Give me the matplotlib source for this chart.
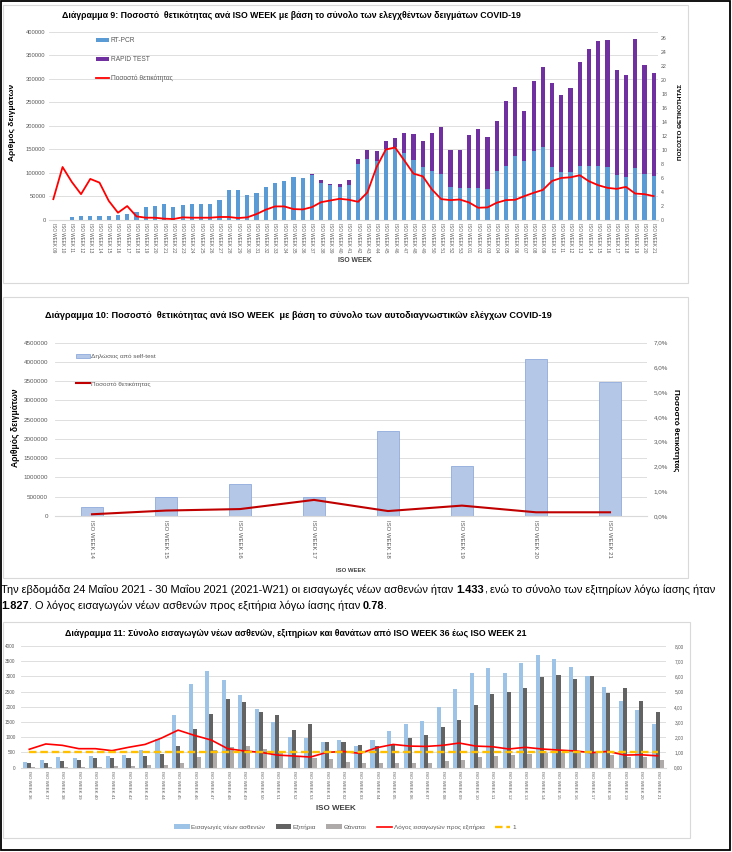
import matplotlib
matplotlib.use("Agg")
import matplotlib.pyplot as plt
import numpy as np
from matplotlib import font_manager
from matplotlib.patches import Rectangle
from matplotlib.ticker import FuncFormatter

plt.rcParams["font.family"] = ["Liberation Sans", "DejaVu Sans"]
_names = {f.name for f in font_manager.fontManager.ttflist}
NARROW = ["Liberation Sans Narrow", "Liberation Sans", "DejaVu Sans"] \
    if "Liberation Sans Narrow" in _names else ["Liberation Sans", "DejaVu Sans"]

W, H = 732, 852
GREY_TXT = "#595959"
GRID = "#D9D9D9"

# ---- Διάγραμμα 9: δείγματα ανά εβδομάδα ----
weeks9 = [f"{w:02d}" for w in range(9, 54)] + [f"{w:02d}" for w in range(1, 22)]
pcr9 = [200, 600, 5700, 9200, 8500, 9200, 9200, 10600, 13400, 17700,
        26900, 29700, 33900, 26900, 31800, 34600, 34600, 34600, 42400, 62900,
        63600, 53000, 57300, 70000, 79200, 82000, 91200, 88400, 96000, 78500,
        73500, 70000, 74200, 118800, 128700, 125800, 149900, 155500, 142800, 127300,
        111700, 103900, 98300, 70000, 68600,
        67900, 68600, 66500, 103900, 115200, 136500, 125800, 146300, 155500, 112400,
        102500, 101800, 113800, 113800, 115200, 111700, 94700, 90500, 111000, 98300,
        92600]
rapid9 = [0] * 28 + [1000, 6400, 2800, 6400, 9900, 10600, 19800, 20500, 17700, 18900,
                     43000, 56400, 56400, 81200, 98800, 78300, 79700,
                     113700, 124200, 109400, 106500, 137600, 145400, 105800, 149700, 169400, 178600,
                     163800, 178600, 221000, 248500, 265500, 269700, 224600, 218200, 272500, 231600,
                     220300]
pos9 = [2.98, 7.57, 5.44, 3.69, 5.87, 5.34, 2.74, 1.04, 1.99, 0.52,
        0.33, 0.33, 0.19, 0.14, 0.38, 0.33, 0.33, 0.33, 0.43, 0.43,
        0.28, 0.38, 0.85, 1.47, 1.94, 1.94, 1.56, 1.51, 1.84, 2.55,
        2.79, 3.03, 2.89, 2.60, 3.93, 7.57, 10.07, 10.36, 8.51, 6.62,
        6.24, 4.35, 2.98, 2.84, 2.93,
        2.51, 1.75, 1.80, 2.46, 2.84, 2.89, 3.41, 3.88, 4.30, 5.58,
        6.01, 6.10, 6.39, 5.53, 4.97, 4.59, 4.45, 4.73, 3.78, 3.69,
        3.41]

# ---- Διάγραμμα 10: self-test ----
weeks10 = ["14", "15", "16", "17", "18", "19", "20", "21"]
self10 = [225000, 500000, 830000, 500000, 2200000, 1310000, 4070000, 3470000]
pos10 = [0.07, 0.22, 0.28, 0.65, 0.20, 0.42, 0.15, 0.15]

# ---- Διάγραμμα 11: εισαγωγές / εξιτήρια / θάνατοι ----
weeks11 = [f"{w:02d}" for w in range(36, 54)] + [f"{w:02d}" for w in range(1, 22)]
adm11 = [200, 252, 350, 318, 395, 373, 416, 581, 943, 1743, 2762, 3178, 2871, 2400,
         1929, 1512, 1008, 986,
         855, 920, 712, 914, 1212, 1437, 1536, 1990, 2573, 3110, 3288, 3124, 3452,
         3704, 3562, 3299, 3014, 2641, 2192, 1896, 1433]
dis11 = [164, 153, 230, 263, 307, 329, 307, 373, 460, 701, 1271, 1776, 2258, 2155,
         1841, 1743, 1238, 1436,
         855, 855, 745, 701, 790, 975, 1076, 1338, 1556, 2076, 2422, 2499, 2608,
         2992, 3047, 2915, 3014, 2466, 2619, 2192, 1827]
deaths11 = [30, 25, 35, 35, 35, 50, 70, 75, 80, 170, 340, 580, 670, 700,
            610, 560, 380, 310,
            270, 200, 160, 150, 160, 160, 170, 220, 260, 360, 390, 430, 450,
            480, 490, 480, 470, 430, 340, 340, 250]
ratio11 = [1.21, 1.56, 1.47, 1.25, 1.25, 1.12, 1.34, 1.53, 1.95, 2.47, 2.12, 1.82, 1.25, 1.10,
           1.01, 0.83, 0.77, 0.70,
           1.01, 1.07, 0.94, 1.31, 1.53, 1.42, 1.40, 1.47, 1.62, 1.42, 1.38, 1.23, 1.34,
           1.23, 1.16, 1.10, 0.99, 1.07, 0.83, 0.85, 0.78]
ref_level = 1

fig = plt.figure(figsize=(W / 100, H / 100), dpi=100)
renderer = fig.canvas.get_renderer()


def fx(x):
    return x / W


def fy(y):
    return 1 - y / H


def rect(x0, y0, x1, y1):
    return [fx(x0), fy(y1), (x1 - x0) / W, (y1 - y0) / H]


def fit_text(x, y, s, length, ha="center", rotation=0, **kw):
    t = fig.text(fx(x), fy(y), s, ha=ha, va="center", rotation=rotation,
                 fontsize=8, **kw)
    bb = t.get_window_extent(renderer)
    cur = bb.height if rotation in (90, 270) else bb.width
    t.set_fontsize(8 * length / cur)
    return t


def clean(ax, bottom=False):
    for name, s in ax.spines.items():
        s.set_visible(bottom and name == "bottom")
        s.set_color(GRID)
    ax.tick_params(length=0, colors=GREY_TXT)


# panels and outer frame
for (x0, y0, x1, y1) in [(3, 5, 688, 283), (3, 297, 688, 578), (3, 622, 690, 838)]:
    fig.patches.append(Rectangle((fx(x0), fy(y1)), (x1 - x0) / W, (y1 - y0) / H,
                                 transform=fig.transFigure, fill=False,
                                 edgecolor=GRID, lw=0.8))
fig.patches.append(Rectangle((fx(0.6), fy(849.5)), 729 / W, 849 / H,
                             transform=fig.transFigure, fill=False,
                             edgecolor="black", lw=1.3))

# ================= Διάγραμμα 9 =================
ax1 = fig.add_axes(rect(48.7, 31.7, 658.3, 220))
x9 = np.arange(len(weeks9))
b_pcr = ax1.bar(x9, pcr9, 0.45, color="#5B9BD5", zorder=2)
b_rap = ax1.bar(x9, rapid9, 0.45, bottom=pcr9, color="#7030A0", zorder=2)
ax1.set_xlim(-0.5, len(weeks9) - 0.5)
ax1.set_ylim(0, 400000)
ax1.set_yticks(range(0, 400001, 50000))
ax1.yaxis.grid(True, color=GRID, lw=0.6)
ax1.set_axisbelow(True)
ax1.set_xticks(x9, ["ISO WEEK " + w for w in weeks9], rotation=-90, fontsize=3.3)
clean(ax1, bottom=True)
ax1.tick_params(axis="y", labelsize=4.2, pad=2.2)
ax1.tick_params(axis="x", pad=2.5)

ax1b = ax1.twinx()
l_pos9, = ax1b.plot(x9, pos9, color="#FF0000", lw=1.3)
ax1b.set_ylim(0, 26.9)
ax1b.set_yticks(range(0, 27, 2))
clean(ax1b)
ax1b.tick_params(axis="y", labelsize=3.8, pad=2)
ax1b.legend([b_pcr, b_rap, l_pos9], ["RT-PCR", "RAPID TEST", "Ποσοστό θετικότητας"],
            loc="upper left", bbox_to_anchor=(fx(96), fy(37)),
            bbox_transform=fig.transFigure, frameon=False, fontsize=4.8,
            labelspacing=1.8, handlelength=2.0, handleheight=0.6,
            handletextpad=0.2, borderpad=0, borderaxespad=0,
            labelcolor=GREY_TXT)

fit_text(62, 16, "Διάγραμμα 9: Ποσοστό  θετικότητας ανά ISO WEEK με βάση το σύνολο "
         "των ελεγχθέντων δειγμάτων COVID-19", 462, ha="left", fontweight="bold",
         family=NARROW)
fit_text(13, 122, "Αριθμός δειγμάτων", 77, rotation=90, fontweight="bold", family=NARROW)
fit_text(680, 122, "ΠΟΣΟΣΤΟ ΘΕΤΙΚΟΤΗΤΑΣ", 77, rotation=90, fontweight="bold", family=NARROW)
fit_text(355, 260, "ISO WEEK", 34, fontweight="bold", color="#404040", family=NARROW)

# ================= Διάγραμμα 10 =================
ax2 = fig.add_axes(rect(55, 342.7, 647, 516))
x10 = np.arange(len(weeks10))
b_self = ax2.bar(x10, self10, 0.29, color="#B4C7E7", edgecolor="#8FAADC",
                 lw=0.6, zorder=2)
ax2.set_xlim(-0.5, len(weeks10) - 0.5)
ax2.set_ylim(0, 4500000)
ax2.set_yticks(range(0, 4500001, 500000))
ax2.yaxis.set_major_formatter(FuncFormatter(lambda v, p: f"{int(v)}"))
ax2.yaxis.grid(True, color=GRID, lw=0.6)
ax2.set_axisbelow(True)
ax2.set_xticks(x10, ["ISO WEEK " + w for w in weeks10], rotation=-90, fontsize=4.3)
clean(ax2, bottom=True)
ax2.tick_params(axis="y", labelsize=4.5, pad=5)
ax2.tick_params(axis="x", pad=3)

ax2b = ax2.twinx()
l_pos10, = ax2b.plot(x10, pos10, color="#C00000", lw=1.5)
ax2b.set_ylim(0, 7)
ax2b.set_yticks(range(0, 8))
ax2b.yaxis.set_major_formatter(FuncFormatter(lambda v, p: f"{v:.1f}%".replace(".", ",")))
clean(ax2b)
ax2b.tick_params(axis="y", labelsize=4.5, pad=5)
ax2b.legend([b_self, l_pos10], ["Δηλώσεις από self-test", "Ποσοστό θετικότητας"],
            loc="upper left", bbox_to_anchor=(fx(76), fy(354)),
            bbox_transform=fig.transFigure, frameon=False, fontsize=4.6,
            labelspacing=3.4, handlelength=2.2, handleheight=0.7,
            handletextpad=0.1, borderpad=0, borderaxespad=0,
            labelcolor=GREY_TXT)

fit_text(45, 316, "Διάγραμμα 10: Ποσοστό  θετικότητας ανά ISO WEEK  με βάση το σύνολο "
         "των αυτοδιαγνωστικών ελέγχων COVID-19", 504, ha="left", fontweight="bold",
         family=NARROW)
fit_text(16, 428, "Αριθμός δειγμάτων", 78, rotation=90, fontweight="bold", family=NARROW)
fit_text(675, 430, "Ποσοστό θετικότητας", 82, rotation=270, fontweight="bold", family=NARROW)
fit_text(351, 571, "ISO WEEK", 30, fontweight="bold", color="#404040", family=NARROW)


# ================= κείμενο =================
def runs_line(runs, x, y, size):
    arts = []
    cx = x
    sp = None
    for txt, bold in runs:
        if txt == " ":
            if sp is None:
                a = fig.text(0, 0, "n n", fontsize=size, family=NARROW)
                b = fig.text(0, 0, "nn", fontsize=size, family=NARROW)
                sp = a.get_window_extent(renderer).width - b.get_window_extent(renderer).width
                a.remove()
                b.remove()
            cx += sp
            continue
        t = fig.text(fx(cx), fy(y), txt, fontsize=size, ha="left", va="center",
                     fontweight="bold" if bold else "normal", color="black",
                     family=NARROW)
        cx += t.get_window_extent(renderer).width
        arts.append(t)
    return arts, cx - x


line1 = [("Την εβδομάδα 24 Μαΐου 2021 - 30 Μαΐου 2021 (2021-W21) οι εισαγωγές νέων "
          "ασθενών ήταν", False), (" ", False), ("1.433", True), (",", False), (" ", False),
         ("ενώ το σύνολο των εξιτηρίων λόγω ίασης ήταν", False)]
line2 = [("1.827", True), (". Ο λόγος εισαγωγών νέων ασθενών προς εξιτήρια λόγω ίασης "
                           "ήταν", False), (" ", False), ("0.78", True), (".", False)]
arts, wid = runs_line(line1, 1, 590, 8)
for a in arts:
    a.remove()
size_p = 8 * 718 / wid
runs_line(line1, 1, 590, size_p)
runs_line(line2, 1, 606, size_p)

# ================= Διάγραμμα 11 =================
ax3 = fig.add_axes(rect(21, 646, 666, 767.7))
x3 = np.arange(len(weeks11))
bw = 0.245
b_adm = ax3.bar(x3 - bw, adm11, bw, color="#9DC3E6", zorder=2)
b_dis = ax3.bar(x3, dis11, bw, color="#636363", zorder=2)
b_dth = ax3.bar(x3 + bw, deaths11, bw, color="#AEAAAA", zorder=2)
ax3.set_xlim(-0.5, len(weeks11) - 0.5)
ax3.set_ylim(0, 4000)
ax3.set_yticks(range(0, 4001, 500))
ax3.yaxis.grid(True, color=GRID, lw=0.6)
ax3.set_axisbelow(True)
ax3.set_xticks(x3, ["ISO WEEK " + w for w in weeks11], rotation=-90, fontsize=3.2)
clean(ax3, bottom=True)
ax3.tick_params(axis="y", labelsize=3.4, pad=4)
ax3.tick_params(axis="x", pad=2.5)

ax3b = ax3.twinx()
l_ratio, = ax3b.plot(x3, ratio11, color="#FF0000", lw=1.2)
l_one, = ax3b.plot([x3[0], x3[-1]], [ref_level, ref_level], color="#FFC000",
                   lw=1.7, dashes=(3.2, 1.6))
ax3b.set_ylim(0, 8)
ax3b.set_yticks(range(0, 9))
ax3b.yaxis.set_major_formatter(FuncFormatter(lambda v, p: f"{v:.2f}".replace(".", ",")))
clean(ax3b)
ax3b.tick_params(axis="y", labelsize=3.4, pad=6)
ax3b.legend([b_adm, b_dis, b_dth, l_ratio, l_one],
            ["Εισαγωγές νέων ασθενών", "Εξιτήρια", "Θάνατοι",
             "Λόγος εισαγωγών προς εξιτήρια", "1"],
            loc="center", bbox_to_anchor=(fx(345), fy(827)),
            bbox_transform=fig.transFigure, frameon=False, fontsize=4.6, ncol=5,
            handlelength=2.4, handleheight=0.8, handletextpad=0.3,
            columnspacing=1.6, borderpad=0, labelcolor=GREY_TXT)

fit_text(65, 633, "Διάγραμμα 11: Σύνολο εισαγωγών νέων ασθενών, εξιτηρίων και θανάτων "
         "από ISO WEEK 36 έως ISO WEEK 21", 463, ha="left", fontweight="bold",
         family=NARROW)
fit_text(336, 808, "ISO WEEK", 40, fontweight="bold", color="#404040", family=NARROW)

fig.savefig("out.png", dpi=100, facecolor="white")
